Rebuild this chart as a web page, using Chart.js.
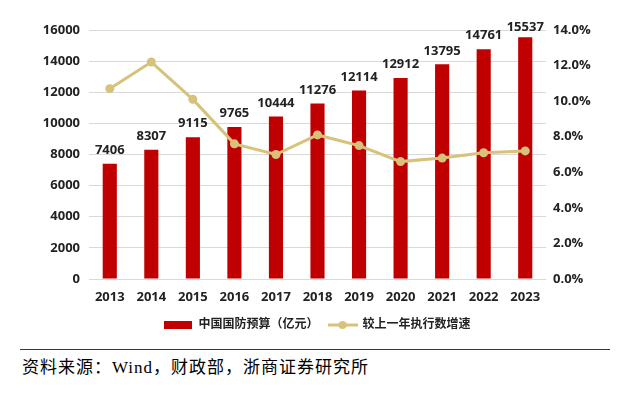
<!DOCTYPE html>
<html>
<head>
<meta charset="utf-8">
<script src="https://cdn.jsdelivr.net/npm/chart.js@4/dist/chart.umd.min.js"></script>
<style>
  html, body { margin: 0; padding: 0; background: #fff; }
  body { width: 618px; height: 398px; position: relative; overflow: hidden; }
  #wrap { position: absolute; left: 0; top: 0; width: 618px; height: 341px; }
  #rule { position: absolute; left: 20px; top: 349px; width: 590px; height: 0; border-top: 1px solid #C00000; }
  #src { position: absolute; left: 22px; top: 357px; font-family: "Liberation Serif", "Noto Sans CJK SC", serif; font-size: 17px; letter-spacing: 1px; color: #000; line-height: 22px; white-space: nowrap; }
</style>
</head>
<body>
<div id="wrap"><canvas id="c"></canvas></div>
<div id="rule"></div>
<div id="src">资料来源：Wind，财政部，浙商证券研究所</div>
<script>
const years = ['2013','2014','2015','2016','2017','2018','2019','2020','2021','2022','2023'];
const budget = [7406, 8307, 9115, 9765, 10444, 11276, 12114, 12912, 13795, 14761, 15537];
const growth = [10.7, 12.2, 10.1, 7.6, 7.0, 8.1, 7.5, 6.6, 6.8, 7.1, 7.2];
const budgetLabel = '中国国防预算（亿元）';
const growthLabel = '较上一年执行数增速';

const RED = '#C00000';
const GOLD = '#D6C27A';
const TXT = '#222222';
const FONT = '"Open Sans", "Noto Sans CJK SC", sans-serif';

function makeBoxImg() {
  const c = document.createElement('canvas');
  c.width = 28; c.height = 8;
  const x = c.getContext('2d');
  x.fillStyle = RED; x.fillRect(0, 0, 28, 8);
  return c;
}
function makeLineImg() {
  const c = document.createElement('canvas');
  c.width = 30; c.height = 10;
  const x = c.getContext('2d');
  x.strokeStyle = GOLD; x.lineWidth = 3;
  x.beginPath(); x.moveTo(0, 5); x.lineTo(30, 5); x.stroke();
  x.fillStyle = GOLD; x.beginPath(); x.arc(15, 5, 4, 0, Math.PI * 2); x.fill();
  return c;
}
const boxImg = makeBoxImg();
const lineImg = makeLineImg();

const barLabels = {
  id: 'barLabels',
  afterDatasetsDraw(chart) {
    const meta = chart.getDatasetMeta(0);
    const ctx = chart.ctx;
    ctx.save();
    ctx.font = 'bold 13px ' + FONT;
    ctx.fillStyle = TXT;
    ctx.textAlign = 'center';
    ctx.textBaseline = 'bottom';
    meta.data.forEach((bar, i) => {
      const y = Math.max(bar.y - 7, chart.chartArea.top + 4);
      ctx.fillText(String(budget[i]), bar.x, y);
    });
    ctx.restore();
  }
};

new Chart(document.getElementById('c'), {
  data: {
    labels: years,
    datasets: [
      {
        type: 'bar',
        label: budgetLabel,
        data: budget,
        backgroundColor: RED,
        yAxisID: 'y',
        barPercentage: 0.34,
        categoryPercentage: 1.0,
        order: 2
      },
      {
        type: 'line',
        label: growthLabel,
        data: growth,
        borderColor: GOLD,
        backgroundColor: GOLD,
        borderWidth: 3,
        pointRadius: 4.5,
        pointHoverRadius: 4.5,
        pointBackgroundColor: GOLD,
        pointBorderWidth: 0,
        tension: 0,
        yAxisID: 'y1',
        order: 1
      }
    ]
  },
  options: {
    responsive: true,
    maintainAspectRatio: false,
    animation: false,
    layout: { padding: { top: 30, left: 0, right: 0, bottom: 0 } },
    plugins: {
      tooltip: { enabled: false },
      legend: {
        position: 'bottom',
        fullSize: false,
        labels: {
          usePointStyle: true,
          pointStyleWidth: 28,
          padding: 10,
          color: TXT,
          font: { family: FONT, size: 12, weight: 'bold' },
          generateLabels(chart) {
            return chart.data.datasets.map((ds, i) => ({
              text: ds.label,
              pointStyle: i === 0 ? boxImg : lineImg,
              fillStyle: i === 0 ? RED : GOLD,
              strokeStyle: 'transparent',
              lineWidth: 0,
              fontColor: TXT,
              datasetIndex: i,
              hidden: false
            }));
          }
        }
      }
    },
    scales: {
      x: {
        grid: { display: false },
        border: { display: false },
        ticks: { color: TXT, font: { family: FONT, size: 13, weight: 'bold' }, padding: 2 },
        afterFit(s) { s.height = 30; }
      },
      y: {
        position: 'left',
        min: 0, max: 16000,
        ticks: { stepSize: 2000, color: TXT, font: { family: FONT, size: 13, weight: 'bold' }, padding: 9,
                 callback: v => String(v) },
        grid: { color: '#D9D9D9', lineWidth: 1, drawTicks: false },
        border: { display: false },
        afterFit(s) { s.width = 89; }
      },
      y1: {
        position: 'right',
        min: 0, max: 14,
        ticks: { stepSize: 2, color: TXT, font: { family: FONT, size: 13, weight: 'bold' }, padding: 7,
                 callback: v => Number(v).toFixed(1) + '%' },
        grid: { display: false, drawTicks: false },
        border: { display: false },
        afterFit(s) { s.width = 72; }
      }
    }
  },
  plugins: [barLabels]
});
</script>
</body>
</html>
